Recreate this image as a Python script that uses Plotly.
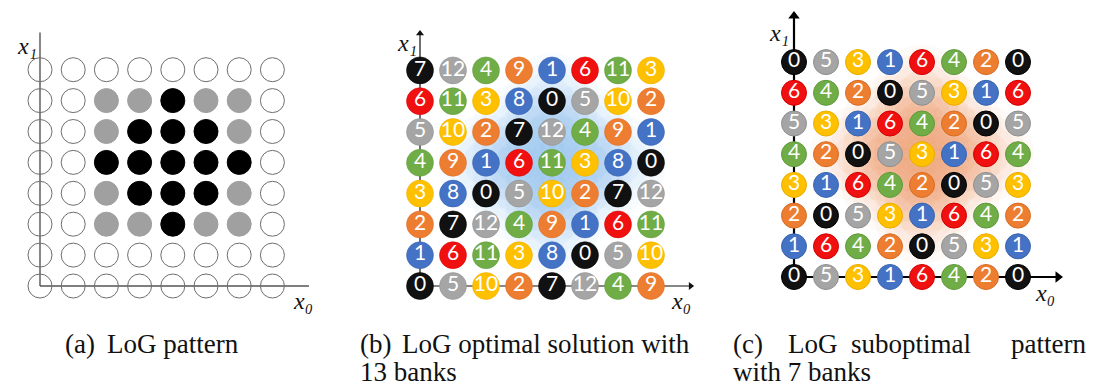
import plotly.graph_objects as go

W, H = 1094, 391

# ---------------- data ----------------
# rows listed from top (x1 = 7) to bottom (x1 = 0), columns x0 = 0..7
# panel (a): 0 = unused, 1 = grey (outer LoG taps), 2 = black (core taps)
pattern_a = [
    [0, 0, 0, 0, 0, 0, 0, 0],
    [0, 0, 1, 1, 2, 1, 1, 0],
    [0, 0, 1, 2, 2, 2, 1, 0],
    [0, 0, 2, 2, 2, 2, 2, 0],
    [0, 0, 1, 2, 2, 2, 1, 0],
    [0, 0, 1, 1, 2, 1, 1, 0],
    [0, 0, 0, 0, 0, 0, 0, 0],
    [0, 0, 0, 0, 0, 0, 0, 0],
]
# panel (b): bank numbers, 13 banks
banks_b = [
    [7, 12, 4, 9, 1, 6, 11, 3],
    [6, 11, 3, 8, 0, 5, 10, 2],
    [5, 10, 2, 7, 12, 4, 9, 1],
    [4, 9, 1, 6, 11, 3, 8, 0],
    [3, 8, 0, 5, 10, 2, 7, 12],
    [2, 7, 12, 4, 9, 1, 6, 11],
    [1, 6, 11, 3, 8, 0, 5, 10],
    [0, 5, 10, 2, 7, 12, 4, 9],
]
# panel (c): bank numbers, 7 banks
banks_c = [
    [0, 5, 3, 1, 6, 4, 2, 0],
    [6, 4, 2, 0, 5, 3, 1, 6],
    [5, 3, 1, 6, 4, 2, 0, 5],
    [4, 2, 0, 5, 3, 1, 6, 4],
    [3, 1, 6, 4, 2, 0, 5, 3],
    [2, 0, 5, 3, 1, 6, 4, 2],
    [1, 6, 4, 2, 0, 5, 3, 1],
    [0, 5, 3, 1, 6, 4, 2, 0],
]
captions = {
    "a": ["(a)", "LoG pattern"],
    "b": ["(b)", "LoG optimal solution with", "13 banks"],
    "c": ["(c)", "LoG", "suboptimal", "pattern", "with 7 banks"],
}
axis_names = ["x\u2081", "x\u2080"]  # x1 (vertical), x0 (horizontal)

# ---------------- styles ----------------
BLACK, BLUE, ORANGE, YELLOW = "#111111", "#4472c4", "#ed7d31", "#ffc000"
GREEN, GREY, RED = "#70ad47", "#a5a5a5", "#f01010"
bank_color = {0: BLACK, 1: BLUE, 2: ORANGE, 3: YELLOW, 4: GREEN, 5: GREY, 6: RED,
              7: BLACK, 8: BLUE, 9: ORANGE, 10: YELLOW, 11: GREEN, 12: GREY}
bank_edge = {BLACK: "#000000", BLUE: "#3a64b0", ORANGE: "#d86c22", YELLOW: "#e8ae00",
             GREEN: "#5f9a3a", GREY: "#8f8f8f", RED: "#d00000"}
SERIF = "Liberation Serif"
DIGIT = "Lato"

# panel geometry: pixel of cell (0,0), pixel spacing, axis ranges
panels = {
    "a": dict(ox=32, oy=278, sx=33.2, sy=30.9, xr=(-0.9, 8.8), yr=(-0.9, 8.3), ax=""),
    "b": dict(ox=412, oy=278, sx=33.0, sy=30.8, xr=(-0.9, 8.9), yr=(-0.9, 8.4), ax="2"),
    "c": dict(ox=786, oy=269, sx=32.0, sy=30.7, xr=(-0.9, 9.0), yr=(-0.9, 8.7), ax="3"),
}


def px(x):
    return x / W


def py(y):
    return (H - y) / H


fig = go.Figure()
layout_axes = {}
for key, p in panels.items():
    x0d = (p["ox"] + p["xr"][0] * p["sx"]) / W
    x1d = (p["ox"] + p["xr"][1] * p["sx"]) / W
    y0d = (H - (p["oy"] - p["yr"][0] * p["sy"])) / H
    y1d = (H - (p["oy"] - p["yr"][1] * p["sy"])) / H
    layout_axes["xaxis" + p["ax"]] = dict(domain=[x0d, x1d], range=list(p["xr"]), visible=False,
                                          fixedrange=True, anchor="y" + p["ax"])
    layout_axes["yaxis" + p["ax"]] = dict(domain=[y0d, y1d], range=list(p["yr"]), visible=False,
                                          fixedrange=True, anchor="x" + p["ax"])


def cells(grid):
    xs, ys, vs = [], [], []
    n = len(grid)
    for r, row in enumerate(grid):
        for c, v in enumerate(row):
            xs.append(c)
            ys.append(n - 1 - r)
            vs.append(v)
    return xs, ys, vs


# ---- panel (a) ----
xa, ya, va = cells(pattern_a)
fill_a = {0: "rgba(0,0,0,0)", 1: "#a0a0a0", 2: "#000000"}
line_a = {0: "#6e6e6e", 1: "#a0a0a0", 2: "#000000"}
fig.add_trace(go.Scatter(
    x=xa, y=ya, mode="markers", xaxis="x", yaxis="y", hoverinfo="skip",
    marker=dict(size=24, color=[fill_a[v] for v in va],
                line=dict(color=[line_a[v] for v in va], width=1))))

# glow cells = core taps of the LoG pattern
glow_x = [x for x, v in zip(xa, va) if v == 2]
glow_y = [y for y, v in zip(ya, va) if v == 2]


def add_glow(ax, rgb):
    for size, a in [(96, 0.04), (80, 0.05), (62, 0.06), (46, 0.07)]:
        fig.add_trace(go.Scatter(
            x=glow_x, y=glow_y, mode="markers", xaxis="x" + ax, yaxis="y" + ax,
            hoverinfo="skip",
            marker=dict(size=size, color="rgba(%d,%d,%d,%.3f)" % (rgb + (a,)), line=dict(width=0))))


def add_banks(grid, ax, size, edge_w):
    xs, ys, vs = cells(grid)
    cols = [bank_color[v] for v in vs]
    fig.add_trace(go.Scatter(
        x=xs, y=ys, mode="markers+text", xaxis="x" + ax, yaxis="y" + ax, hoverinfo="skip",
        text=[str(v) for v in vs], textposition="middle center",
        textfont=dict(family=DIGIT, size=21, color="white"),
        marker=dict(size=size, color=cols,
                    line=dict(color=[bank_edge[c] for c in cols], width=edge_w))))


add_glow("2", (110, 175, 240))
add_banks(banks_b, "2", 27, 0.5)
add_glow("3", (240, 125, 60))
add_banks(banks_c, "3", 25, 1)

# ---- axis lines (below markers) ----
shapes = []
axis_lines = {
    "a": dict(top=8.2, right=8.1, color="#555555", width=1.4),
    "b": dict(top=8.2, right=8.2, color="#111111", width=1.2),
    "c": dict(top=8.5, right=8.25, color="#000000", width=2.2),
}
for key, a in axis_lines.items():
    ax = panels[key]["ax"]
    shapes.append(dict(type="line", xref="x" + ax, yref="y" + ax, x0=0, y0=0, x1=0, y1=a["top"],
                       line=dict(color=a["color"], width=a["width"]), layer="below"))
    shapes.append(dict(type="line", xref="x" + ax, yref="y" + ax, x0=0, y0=0, x1=a["right"], y1=0,
                       line=dict(color=a["color"], width=a["width"]), layer="below"))

# arrow heads for (b) and (c), as triangle markers at the line ends
for key, hs in [("b", 7), ("c", 10)]:
    a = axis_lines[key]
    ax = panels[key]["ax"]
    fig.add_trace(go.Scatter(
        x=[0, a["right"]], y=[a["top"], 0], mode="markers", xaxis="x" + ax, yaxis="y" + ax,
        hoverinfo="skip",
        marker=dict(symbol=["triangle-up", "triangle-right"], size=hs, color=a["color"],
                    line=dict(width=0))))

annotations = []
# axis labels (pixel positions of the label centres)
axis_label_pos = [
    (axis_names[0], 19, 38), (axis_names[1], 295, 293),
    (axis_names[0], 399, 35), (axis_names[1], 673, 293),
    (axis_names[0], 771, 25), (axis_names[1], 1037, 285),
]
for t, x, y in axis_label_pos:
    annotations.append(dict(text=t, x=px(x), y=py(y), xref="paper", yref="paper", showarrow=False,
                            xanchor="center", yanchor="middle",
                            font=dict(family=SERIF, size=24, color="#111111", style="italic")))

# captions
cap_font = dict(family=SERIF, size=27, color="#111111")
L1, L2 = 336, 364


def cap(text, x, y, anchor):
    annotations.append(dict(text=text, x=px(x), y=py(y), xref="paper", yref="paper", showarrow=False,
                            xanchor=anchor, yanchor="middle", font=cap_font))


cap(captions["a"][0], 55, L1, "left")
cap(captions["a"][1], 97, L1, "left")
cap(captions["b"][0], 350, L1, "left")
cap(captions["b"][1], 392, L1, "left")
cap(captions["b"][2], 350, L2, "left")
cap(captions["c"][0], 723, L1, "left")
cap(captions["c"][1], 778, L1, "left")
cap(captions["c"][2], 903, L1, "center")
cap(captions["c"][3], 1080, L1, "right")
cap(captions["c"][4], 723, L2, "left")

fig.update_layout(
    width=W, height=H, margin=dict(l=0, r=0, t=0, b=0),
    paper_bgcolor="white", plot_bgcolor="rgba(0,0,0,0)",
    showlegend=False, shapes=shapes, annotations=annotations, **layout_axes)

fig.write_html("out.html")
